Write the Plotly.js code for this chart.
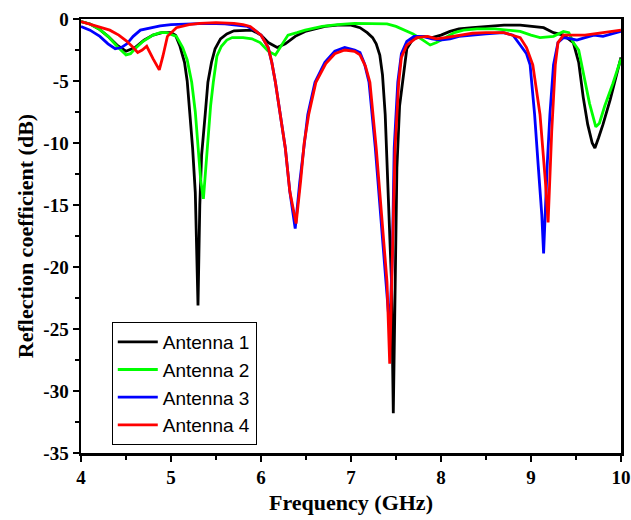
<!DOCTYPE html>
<html>
<head>
<meta charset="utf-8">
<script src="https://cdn.plot.ly/plotly-3.0.1.min.js"></script>
<style>html,body{margin:0;padding:0;background:#fff;}</style>
</head>
<body>
<div id="chart" style="width:631px;height:520px;"></div>
<script>
// Antenna 1 (black)
const freq1 = [4.0,4.1,4.2,4.3,4.4,4.5,4.6,4.7,4.8,4.9,5.0,5.05,5.1,5.15,5.18,5.21,5.24,5.27,5.30,5.32,5.34,5.38,5.41,5.45,5.49,5.55,5.62,5.7,5.8,5.9,6.0,6.08,6.18,6.27,6.38,6.49,6.6,6.71,6.85,7.0,7.1,7.18,7.24,7.28,7.32,7.35,7.38,7.41,7.45,7.47,7.49,7.51,7.54,7.58,7.62,7.69,7.8,7.9,8.0,8.1,8.2,8.35,8.5,8.7,8.88,9.0,9.14,9.25,9.36,9.47,9.53,9.58,9.63,9.68,9.71,9.75,9.8,9.88,9.95,10.0];
const s11_1 = [-0.2,-0.4,-0.8,-1.4,-2.1,-2.6,-2.3,-1.7,-1.3,-1.1,-1.1,-1.3,-2.2,-3.5,-5.0,-7.5,-10.4,-14,-23.1,-15,-11,-7.7,-5.1,-3.5,-2.4,-1.6,-1.2,-0.95,-0.9,-0.9,-1.3,-1.9,-2.3,-2.0,-1.4,-1.0,-0.8,-0.6,-0.5,-0.5,-0.7,-1.1,-1.5,-2.0,-2.9,-4.5,-7.7,-13.1,-21.2,-31.8,-22,-12,-7,-4.5,-2.4,-1.6,-1.4,-1.5,-1.3,-1.0,-0.8,-0.7,-0.6,-0.5,-0.5,-0.6,-0.7,-1.1,-1.3,-1.9,-3.5,-6.3,-8.5,-10.0,-10.4,-9.6,-8.5,-6.5,-4.5,-3.1];

// Antenna 2 (green)
const freq2 = [4.0,4.1,4.2,4.3,4.4,4.5,4.55,4.6,4.69,4.8,4.88,4.95,5.06,5.13,5.18,5.23,5.27,5.30,5.33,5.36,5.38,5.40,5.44,5.47,5.51,5.56,5.62,5.68,5.8,5.9,5.99,6.08,6.16,6.23,6.30,6.4,6.49,6.68,6.85,7.04,7.2,7.4,7.5,7.6,7.69,7.8,7.88,7.95,8.05,8.15,8.25,8.4,8.6,8.75,8.88,9.0,9.1,9.25,9.36,9.42,9.47,9.53,9.58,9.65,9.72,9.76,9.82,9.91,10.0];
const s11_2 = [-0.2,-0.4,-0.8,-1.4,-2.2,-2.9,-2.8,-2.4,-1.8,-1.3,-1.1,-1.1,-1.4,-2.3,-3.3,-5.1,-7.5,-10.4,-13,-14.5,-12.5,-10.4,-7,-5.1,-3.0,-2.2,-1.7,-1.5,-1.5,-1.6,-1.9,-2.6,-2.9,-2.1,-1.3,-1.1,-0.9,-0.6,-0.45,-0.35,-0.35,-0.4,-0.6,-0.9,-1.2,-1.7,-2.1,-1.9,-1.5,-1.1,-0.9,-0.8,-0.8,-0.9,-1.0,-1.3,-1.5,-1.4,-1.0,-1.1,-1.9,-2.5,-4.4,-6.8,-8.7,-8.4,-7.0,-5.2,-3.2];

// Antenna 3 (blue)
const freq3 = [4.0,4.1,4.21,4.3,4.38,4.45,4.51,4.58,4.66,4.77,4.88,5.0,5.2,5.4,5.6,5.75,5.85,5.93,6.0,6.08,6.12,6.16,6.21,6.27,6.32,6.38,6.43,6.48,6.52,6.6,6.71,6.82,6.93,7.04,7.1,7.15,7.2,7.27,7.33,7.39,7.43,7.46,7.48,7.52,7.56,7.62,7.7,7.8,7.9,7.99,8.1,8.2,8.32,8.5,8.69,8.8,8.88,8.95,8.99,9.04,9.08,9.12,9.14,9.16,9.18,9.21,9.25,9.30,9.36,9.45,9.51,9.6,9.7,9.8,9.9,10.0];
const s11_3 = [-0.6,-0.9,-1.4,-2.0,-2.4,-2.3,-2.0,-1.4,-0.9,-0.7,-0.55,-0.45,-0.4,-0.35,-0.4,-0.5,-0.6,-0.9,-1.3,-2.3,-3.5,-5.1,-7.7,-10.4,-13.9,-16.9,-13.2,-10,-7.7,-5.1,-3.5,-2.6,-2.3,-2.5,-2.7,-3.6,-5.1,-10.4,-15.8,-21,-25,-19,-10.4,-5.1,-2.8,-1.8,-1.4,-1.4,-1.6,-1.7,-1.6,-1.4,-1.3,-1.2,-1.1,-1.3,-2.1,-2.8,-3.7,-7.7,-11.8,-15.8,-18.9,-15,-11.8,-7.7,-3.7,-1.9,-1.5,-1.6,-1.7,-1.5,-1.3,-1.4,-1.2,-1.0];

// Antenna 4 (red)
const freq4 = [4.0,4.1,4.2,4.32,4.42,4.51,4.58,4.63,4.68,4.73,4.8,4.87,4.91,4.96,5.06,5.2,5.32,5.5,5.7,5.8,5.88,5.93,6.0,6.08,6.12,6.16,6.21,6.27,6.32,6.39,6.44,6.48,6.53,6.61,6.72,6.82,6.93,7.04,7.10,7.16,7.21,7.28,7.34,7.40,7.43,7.46,7.49,7.53,7.56,7.62,7.73,7.85,7.95,8.05,8.2,8.35,8.5,8.7,8.88,8.95,9.02,9.1,9.16,9.19,9.23,9.27,9.30,9.36,9.5,9.6,9.7,9.8,9.9,10.0];
const s11_4 = [-0.2,-0.4,-0.6,-0.9,-1.3,-1.8,-2.3,-2.7,-2.5,-2.2,-3.2,-4.1,-3.0,-1.4,-0.7,-0.45,-0.35,-0.3,-0.35,-0.45,-0.6,-0.9,-1.3,-2.3,-3.5,-5.1,-7.7,-10.4,-13.9,-16.5,-13.1,-10,-7.7,-5.1,-3.6,-2.8,-2.5,-2.6,-2.9,-3.8,-5.1,-10.4,-15.8,-21.2,-27.8,-18.5,-10.4,-5.1,-3.1,-2.1,-1.5,-1.4,-1.6,-1.5,-1.3,-1.15,-1.1,-1.1,-1.5,-2.3,-3.7,-7.7,-13.1,-16.4,-9.1,-3.7,-1.9,-1.3,-1.3,-1.3,-1.2,-1.1,-1.0,-0.9];

const names = ['Antenna 1','Antenna 2','Antenna 3','Antenna 4'];
const colors = ['#000000','#00ff00','#0000ff','#ff0000'];
const xTicks = [4,5,6,7,8,9,10];
const yTicks = [0,-5,-10,-15,-20,-25,-30,-35];
const yTickText = ['0','-5','-10','-15','-20','-25','-30','-35'];

const xs = [freq1,freq2,freq3,freq4];
const ys = [s11_1,s11_2,s11_3,s11_4];
const traces = names.map((n,i)=>({
  x: xs[i], y: ys[i], name: n, type:'scatter', mode:'lines',
  line:{color:colors[i], width:2.8}
}));

const tickFont = {family:'Liberation Serif, Times New Roman, serif', size:19, color:'#000', weight:'bold'};
const titleFont = {family:'Liberation Serif, Times New Roman, serif', size:22, color:'#000', weight:'bold'};

const layout = {
  width:631, height:520,
  margin:{l:81, r:10, t:19, b:67},
  paper_bgcolor:'#fff', plot_bgcolor:'#fff',
  showlegend:true,
  xaxis:{
    range:[4,10], tickvals:xTicks, ticktext:xTicks.map(String),
    ticks:'outside', ticklen:6, tickwidth:2, tickcolor:'#000',
    minor:{ticks:'outside', dtick:0.5, tick0:4, ticklen:4, tickwidth:2, tickcolor:'#000'},
    showline:true, linewidth:2.5, linecolor:'#000', mirror:true,
    showgrid:false, zeroline:false,
    tickfont:tickFont,
    title:{text:'Frequency (GHz)', font:titleFont, standoff:8}
  },
  yaxis:{
    range:[-35,0], tickvals:yTicks, ticktext:yTickText,
    ticks:'outside', ticklen:6, tickwidth:2, tickcolor:'#000',
    minor:{ticks:'outside', dtick:2.5, tick0:0, ticklen:4, tickwidth:2, tickcolor:'#000'},
    showline:true, linewidth:2.5, linecolor:'#000', mirror:true,
    showgrid:false, zeroline:false,
    tickfont:tickFont,
    title:{text:'Reflection coefficient (dB)', font:titleFont, standoff:4}
  },
  legend:{
    x:0.057, y:0.302, xanchor:'left', yanchor:'top',
    bgcolor:'#fff', bordercolor:'#000', borderwidth:1,
    font:{family:'Liberation Sans, Arial, sans-serif', size:19, color:'#000'},
    tracegroupgap:0, itemwidth:40
  }
};

Plotly.newPlot('chart', traces, layout, {displayModeBar:false, staticPlot:true});
</script>
</body>
</html>
